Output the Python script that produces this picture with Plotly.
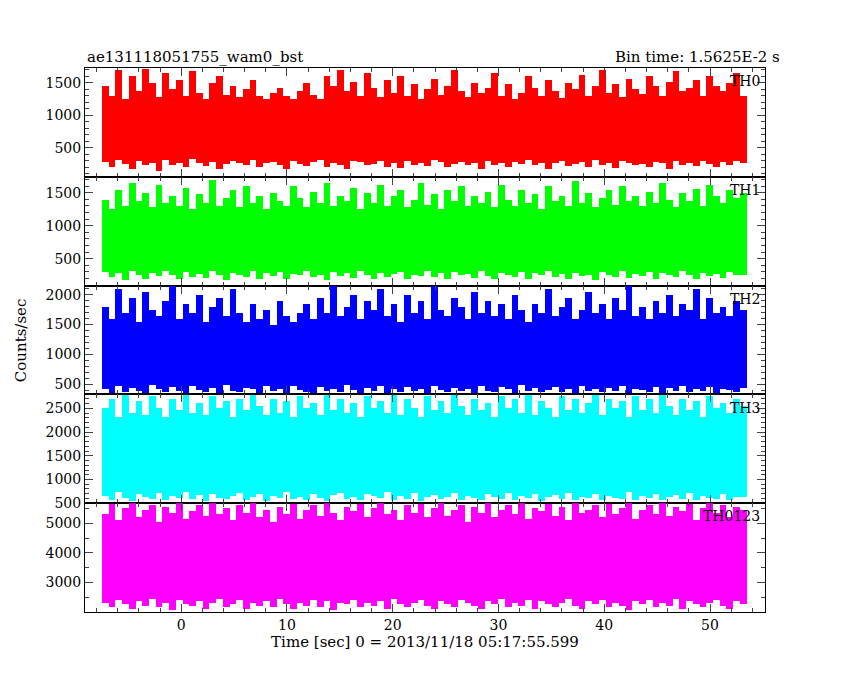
import plotly.graph_objects as go
from plotly.subplots import make_subplots

t_start = -7.5
bin_w = 0.635
names = ["TH0", "TH1", "TH2", "TH3", "TH0123"]
colors = ["#ff0000", "#00ff00", "#0000ff", "#00ffff", "#ff00ff"]
y_ranges = [[55, 1730], [90, 1742], [330, 2153], [500, 2795], [2000, 5680]]
y_ticks = [[500, 1000, 1500], [500, 1000, 1500], [500, 1000, 1500, 2000],
           [500, 1000, 1500, 2000, 2500], [3000, 4000, 5000]]

th0_hi = [1450,1300,1700,1250,1600,1380,1720,1500,1280,1650,1400,1550,1300,1680,1350,1250,1500,1600,1320,1450,
          1280,1400,1550,1300,1250,1350,1420,1300,1260,1380,1500,1320,1250,1600,1450,1700,1380,1520,1300,1650,
          1420,1280,1550,1350,1600,1300,1480,1250,1400,1560,1320,1450,1700,1380,1290,1500,1350,1420,1650,1300,
          1480,1250,1350,1600,1420,1300,1550,1380,1270,1500,1400,1620,1300,1450,1700,1350,1480,1280,1560,1400,
          1330,1600,1450,1300,1520,1680,1380,1420,1550,1300,1600,1450,1380,1500,1650,1300]
th0_lo = [280,200,320,250,180,300,230,260,150,310,240,270,200,330,260,220,290,180,250,300,
          270,230,310,200,260,290,240,180,300,250,220,280,310,200,260,240,170,300,280,230,
          250,300,210,270,190,300,240,260,220,310,280,200,250,290,230,270,180,300,240,260,
          200,290,250,310,230,270,180,260,300,220,250,280,200,310,240,260,190,300,270,230,
          250,210,290,260,180,300,240,270,220,300,250,200,280,240,300,260]
th1_hi = [1400,1250,1550,1300,1650,1380,1500,1280,1620,1350,1450,1300,1580,1250,1480,1350,1700,1300,1420,1550,
          1280,1600,1350,1450,1250,1500,1380,1300,1600,1420,1280,1520,1350,1650,1300,1450,1380,1580,1260,1500,
          1350,1620,1300,1450,1550,1280,1400,1650,1320,1480,1250,1550,1380,1600,1300,1450,1350,1520,1280,1620,
          1400,1300,1550,1350,1480,1260,1600,1380,1450,1300,1680,1350,1500,1280,1420,1550,1320,1600,1380,1450,
          1300,1520,1350,1650,1400,1280,1500,1380,1560,1300,1620,1450,1350,1550,1420,1500]
th1_lo = [300,220,280,180,320,250,200,290,240,310,260,190,300,230,270,210,320,250,180,290,
          260,230,310,200,280,240,300,190,270,250,320,220,260,180,300,240,280,210,310,250,
          190,290,230,270,300,200,260,240,310,220,280,190,300,250,270,210,320,240,200,290,
          260,230,300,190,280,250,310,220,270,200,290,240,260,180,300,250,230,310,210,270,
          240,300,190,280,260,220,310,250,200,290,240,270,210,300,250,260]
th2_hi = [1800,1600,2100,1700,1950,1550,2050,1750,1650,1900,2150,1600,1850,1700,2000,1550,1800,1950,1650,2100,
          1700,1550,1850,1600,1750,1500,1900,1650,1550,1700,1850,1600,1950,1700,2150,1650,1800,2000,1600,1900,
          1750,2100,1650,1850,1550,2000,1700,1900,1600,2150,1750,1650,1950,1800,1600,2050,1700,1900,1650,1850,
          1600,2000,1750,1550,1850,1700,2100,1650,1800,1950,1600,1750,2050,1700,1850,1600,1950,1750,2150,1650,
          1800,1600,1900,1700,2000,1650,1850,1750,2100,1600,1950,1700,1800,1650,1900,1750]
th2_lo = [420,350,480,380,450,400,360,500,430,370,460,390,340,470,410,380,440,360,490,400,
          370,450,420,350,480,390,430,360,470,410,380,350,460,400,430,370,490,410,360,440,
          390,470,350,420,380,460,400,430,360,480,410,370,450,390,430,350,470,400,380,460,
          420,360,490,390,440,370,410,460,380,430,350,480,400,420,370,450,390,470,360,430,
          410,380,460,350,440,400,480,370,420,390,460,360,430,410,380,450]
th3_hi = [2500,2700,2300,2780,2400,2650,2350,2750,2500,2300,2700,2450,2780,2400,2600,2350,2750,2500,2650,2300,
          2700,2450,2780,2550,2350,2700,2400,2650,2300,2750,2500,2600,2350,2780,2450,2700,2400,2600,2300,2750,
          2500,2650,2400,2780,2350,2700,2500,2300,2750,2450,2650,2400,2780,2550,2350,2700,2450,2600,2300,2750,
          2500,2700,2400,2780,2350,2650,2500,2300,2750,2450,2700,2400,2600,2780,2350,2700,2500,2650,2300,2750,
          2450,2700,2400,2780,2550,2350,2700,2450,2650,2300,2750,2500,2600,2400,2700,2550]
th3_lo = [650,560,720,600,540,680,620,580,700,550,640,600,720,570,660,530,690,610,580,640,
          700,560,620,680,540,650,600,720,570,630,560,690,610,540,660,700,580,620,550,680,
          640,600,720,560,650,590,700,540,630,670,580,620,700,560,640,600,550,680,620,590,
          710,560,640,600,680,540,620,660,580,700,560,630,600,690,550,650,610,580,720,560,
          640,600,680,550,620,660,590,700,560,640,610,580,690,550,630,620]
th0123_hi = [5300,5650,5100,5500,5680,5200,5450,5600,5050,5550,5350,5680,5150,5400,5600,5250,5680,5300,5500,5100,
             5600,5350,5680,5200,5450,5050,5550,5300,5650,5150,5450,5600,5250,5680,5350,5100,5550,5400,5650,5200,
             5500,5680,5300,5450,5100,5600,5350,5650,5200,5500,5680,5250,5450,5600,5050,5550,5350,5680,5200,5450,
             5600,5300,5680,5150,5500,5400,5650,5250,5550,5100,5680,5350,5450,5600,5200,5650,5300,5500,5680,5150,
             5450,5600,5300,5680,5250,5550,5400,5650,5100,5500,5680,5350,5600,5200,5550,5450]
th0123_lo = [2300,2150,2400,2250,2100,2350,2200,2450,2150,2300,2050,2400,2250,2200,2350,2100,2300,2450,2150,2250,
             2400,2100,2300,2200,2350,2150,2450,2250,2100,2300,2200,2400,2150,2350,2050,2300,2250,2400,2150,2300,
             2200,2350,2100,2450,2250,2150,2300,2400,2200,2100,2350,2250,2150,2400,2300,2200,2100,2350,2250,2450,
             2150,2300,2200,2400,2100,2350,2250,2150,2300,2450,2200,2100,2350,2250,2400,2150,2300,2200,2050,2350,
             2250,2400,2150,2300,2200,2450,2100,2350,2250,2150,2300,2400,2200,2100,2350,2250]

his = [th0_hi, th1_hi, th2_hi, th3_hi, th0123_hi]
los = [th0_lo, th1_lo, th2_lo, th3_lo, th0123_lo]

font = "DejaVu Serif"
fig = make_subplots(rows=5, cols=1, shared_xaxes=True, vertical_spacing=0)
for i in range(5):
    xs = [t_start + bin_w * (k + 0.5) for k in range(len(his[i]))]
    fig.add_trace(go.Bar(x=xs, y=[h - l for h, l in zip(his[i], los[i])], base=los[i],
                         width=bin_w, marker=dict(color=colors[i], line=dict(width=0)),
                         showlegend=False), row=i + 1, col=1)
    ax = dict(range=y_ranges[i], tickvals=y_ticks[i], ticks="inside", ticklen=8, mirror="ticks",
              showline=True, linecolor="black", linewidth=1, showgrid=False, zeroline=False,
              automargin=False,
              minor=dict(ticks="inside", ticklen=4, dtick=100 if i < 4 else 500),
              tickfont=dict(family=font, size=14, color="black"))
    fig.update_yaxes(ax, row=i + 1, col=1)
    fig.update_xaxes(range=[-9.1, 55.2], ticks="inside", ticklen=8, mirror="ticks",
                     showline=True, linecolor="black", linewidth=1, showgrid=False, zeroline=False,
                     automargin=False, dtick=10, minor=dict(ticks="inside", ticklen=4, dtick=2),
                     tickfont=dict(family=font, size=14, color="black"), row=i + 1, col=1)
    fig.add_annotation(text=names[i], xref=f"x{i+1} domain" if i else "x domain",
                       yref=f"y{i+1} domain" if i else "y domain", x=0.995, y=0.97,
                       xanchor="right", yanchor="top", showarrow=False,
                       font=dict(family=font, size=14, color="black"))

fig.update_xaxes(title=dict(text="Time [sec] 0 = 2013/11/18 05:17:55.599", standoff=2,
                            font=dict(family=font, size=15, color="black")), row=5, col=1)
fig.add_annotation(text="Counts/sec", textangle=-90, xref="paper", yref="paper", x=-0.11, y=0.5,
                   showarrow=False, font=dict(family=font, size=15, color="black"))
fig.add_annotation(text="ae131118051755_wam0_bst", xref="paper", yref="paper", x=0, y=1.0,
                   xanchor="left", yanchor="bottom", showarrow=False,
                   font=dict(family=font, size=15, color="black"))
fig.add_annotation(text="Bin time: 1.5625E-2 s", xref="paper", yref="paper", x=1.025, y=1.0,
                   xanchor="right", yanchor="bottom", showarrow=False,
                   font=dict(family=font, size=15, color="black"))
fig.update_layout(width=850, height=680, margin=dict(l=77, r=93, t=60, b=76, autoexpand=False),
                  paper_bgcolor="white", plot_bgcolor="white", bargap=0)
fig.write_html("out.html")
